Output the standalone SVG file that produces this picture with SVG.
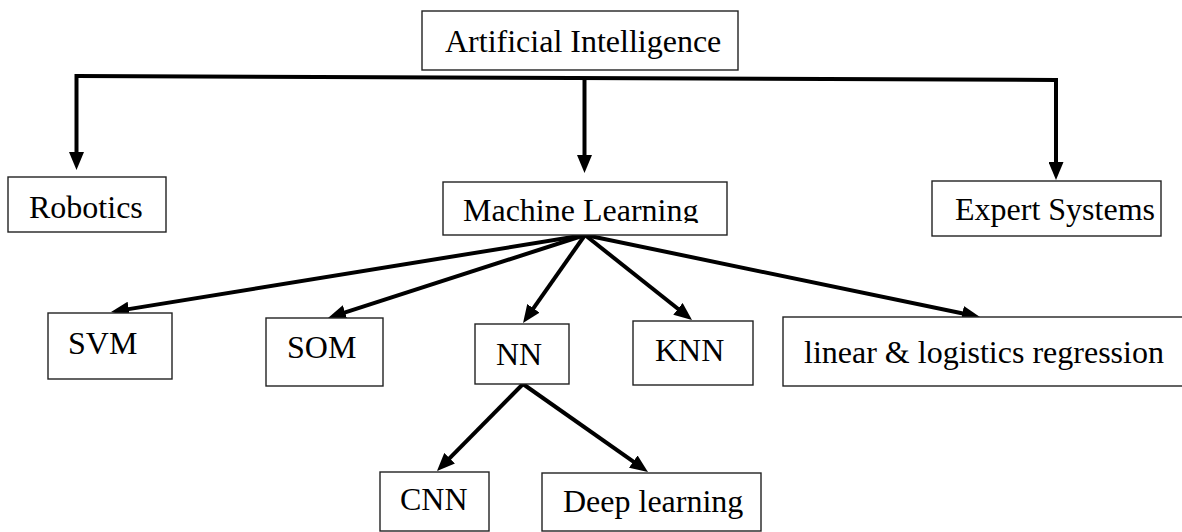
<svg xmlns="http://www.w3.org/2000/svg" width="1182" height="532" viewBox="0 0 1182 532">
  <defs>
    <style>
      .box { fill: #ffffff; stroke: #222222; stroke-width: 1.4; }
      .lbl { font-family: "Liberation Serif", "Times New Roman", serif; font-size: 32px; fill: #000000; }
      .link { fill: none; stroke: #000000; stroke-width: 4; stroke-linecap: butt; stroke-linejoin: miter; }
      .arrow { marker-end: url(#head); }
    </style>
    <!-- filled arrowhead; tip sits 10px past the end of each line -->
    <marker id="head" markerUnits="userSpaceOnUse" viewBox="0 0 18 15" markerWidth="18" markerHeight="15" refX="8" refY="7.5" orient="auto">
      <path d="M0,0 L18,7.5 L0,15 z" fill="#000000"/>
    </marker>
    <clipPath id="mlClip">
      <rect x="443" y="182" width="284" height="41"/>
    </clipPath>
  </defs>

  <rect width="1182" height="532" fill="#ffffff"/>

  <!-- connectors -->
  <g id="connectors">
    <!-- top branch bar from Artificial Intelligence -->
    <path class="link" d="M76.5,76 L1056,80"/>
    <path class="link arrow" d="M76.5,74 V160"/>
    <path class="link arrow" d="M584.5,78 V163"/>
    <path class="link arrow" d="M1056,78 V170"/>
    <!-- fan out of Machine Learning -->
    <path class="link arrow" d="M585,235 L120.9,310.4"/>
    <path class="link arrow" d="M585,235 L337.5,314.9"/>
    <path class="link arrow" d="M585,235 L528.8,314.8"/>
    <path class="link arrow" d="M585,235 L684.2,313.8"/>
    <path class="link arrow" d="M585,235 L970.2,315"/>
    <!-- fan out of NN -->
    <path class="link arrow" d="M523,384 L444,463.9"/>
    <path class="link arrow" d="M523,384 L639.8,466.2"/>
  </g>

  <g id="node-ai">
    <rect class="box" x="422" y="11" width="316" height="59"/>
    <text class="lbl" x="445" y="52" font-size="31.5">Artificial Intelligence</text>
  </g>

  <g id="node-robotics">
    <rect class="box" x="8" y="177" width="158" height="55"/>
    <text class="lbl" x="29" y="218">Robotics</text>
  </g>

  <g id="node-ml">
    <rect class="box" x="443" y="182" width="284" height="53"/>
    <text class="lbl" x="463" y="221" clip-path="url(#mlClip)">Machine Learning</text>
  </g>

  <g id="node-expert">
    <rect class="box" x="932" y="181" width="229" height="55"/>
    <text class="lbl" x="955" y="220">Expert Systems</text>
  </g>

  <g id="node-svm">
    <rect class="box" x="48" y="313" width="124" height="66"/>
    <text class="lbl" x="68" y="354">SVM</text>
  </g>

  <g id="node-som">
    <rect class="box" x="266" y="318" width="117" height="68"/>
    <text class="lbl" x="287" y="358">SOM</text>
  </g>

  <g id="node-nn">
    <rect class="box" x="475" y="324" width="94" height="60"/>
    <text class="lbl" x="496" y="365" font-size="30">NN</text>
  </g>

  <g id="node-knn">
    <rect class="box" x="633" y="321" width="120" height="64"/>
    <text class="lbl" x="655" y="361" font-size="30.5">KNN</text>
  </g>

  <g id="node-regression">
    <rect class="box" x="783" y="317" width="410" height="69"/>
    <text class="lbl" x="804" y="363">linear &amp; logistics regression</text>
  </g>

  <g id="node-cnn">
    <rect class="box" x="380" y="472" width="109" height="59"/>
    <text class="lbl" x="400" y="510" font-size="31">CNN</text>
  </g>

  <g id="node-deep">
    <rect class="box" x="542" y="473" width="219" height="58"/>
    <text class="lbl" x="563" y="512">Deep learning</text>
  </g>
</svg>
